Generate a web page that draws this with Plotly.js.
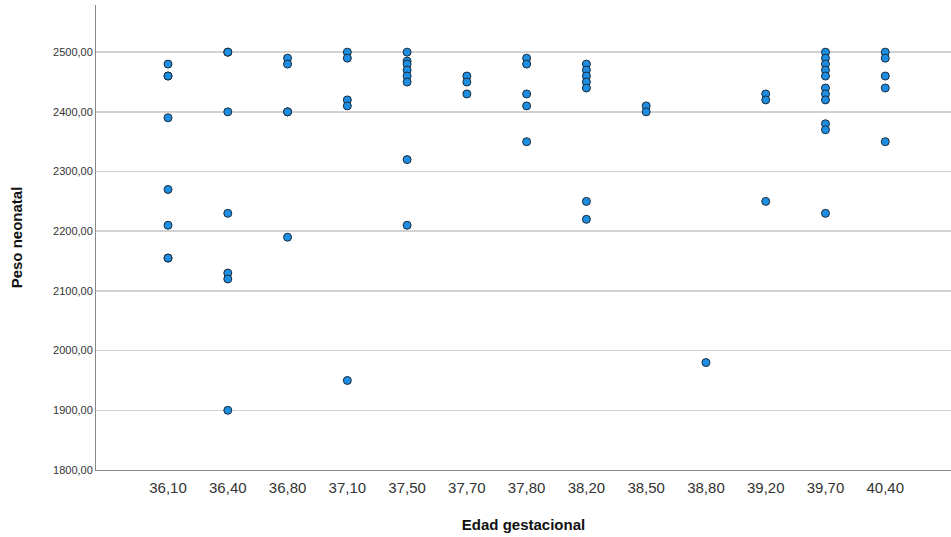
<!DOCTYPE html>
<html>
<head>
<meta charset="utf-8">
<script src="https://cdn.plot.ly/plotly-3.0.1.min.js"></script>
<style>html,body{margin:0;padding:0;background:#fff;}#chart{width:951px;height:537px;}</style>
</head>
<body>
<div id="chart"></div>
<script>
const categories = ["36,10","36,40","36,80","37,10","37,50","37,70","37,80","38,20","38,50","38,80","39,20","39,70","40,40"];
const g3610 = [2480, 2460, 2460, 2390, 2270, 2210, 2155, 2155];
const g3640 = [2500, 2500, 2400, 2230, 2130, 2120, 1900];
const g3680 = [2490, 2480, 2400, 2400, 2190];
const g3710 = [2500, 2490, 2420, 2410, 1950];
const g3750 = [2500, 2485, 2480, 2470, 2460, 2450, 2320, 2210];
const g3770 = [2460, 2450, 2430];
const g3780 = [2490, 2480, 2430, 2410, 2350];
const g3820 = [2480, 2470, 2460, 2450, 2440, 2250, 2220];
const g3850 = [2410, 2400];
const g3880 = [1980];
const g3920 = [2430, 2420, 2250];
const g3970 = [2500, 2490, 2480, 2470, 2460, 2440, 2430, 2420, 2380, 2370, 2230];
const g4040 = [2500, 2490, 2460, 2440, 2350];
const groups = [g3610, g3640, g3680, g3710, g3750, g3770, g3780, g3820, g3850, g3880, g3920, g3970, g4040];

const xs = [], ys = [];
groups.forEach((g, i) => g.forEach(v => { xs.push(categories[i]); ys.push(v); }));

const trace = {
  type: 'scatter', mode: 'markers', x: xs, y: ys,
  marker: {size: 8, color: 'rgb(30,142,226)', line: {color: '#1a2a3a', width: 1}},
  hoverinfo: 'x+y', showlegend: false
};

const layout = {
  width: 951, height: 537,
  margin: {l: 96, r: 0, t: 5, b: 67},
  paper_bgcolor: '#fff', plot_bgcolor: '#fff',
  separators: ',.',
  font: {family: 'Arial, Liberation Sans, sans-serif', color: '#222'},
  xaxis: {
    type: 'category', categoryorder: 'array', categoryarray: categories,
    range: [-1.205, 13.1], showgrid: false, zeroline: false,
    showline: true, linecolor: '#888', linewidth: 1, ticks: '',
    ticklabelstandoff: 4,
    tickfont: {size: 15, color: '#333', family: 'Liberation Sans Narrow, Arial Narrow, Arial, sans-serif'},
    title: {text: '<b>Edad gestacional</b>', font: {size: 15, color: '#111'}, standoff: 24}
  },
  yaxis: {
    range: [1800, 2579], tickvals: [1800,1900,2000,2100,2200,2300,2400,2500],
    tickformat: '.2f', showgrid: true, gridcolor: '#d2d2d2', gridwidth: 1.5,
    zeroline: false, showline: true, linecolor: '#888', linewidth: 1, ticks: '',
    tickfont: {size: 11, color: '#333'},
    title: {text: '<b>Peso neonatal</b>', font: {size: 15, color: '#111'}, standoff: 26}
  }
};

Plotly.newPlot('chart', [trace], layout, {displayModeBar: false, staticPlot: true});
</script>
</body>
</html>
